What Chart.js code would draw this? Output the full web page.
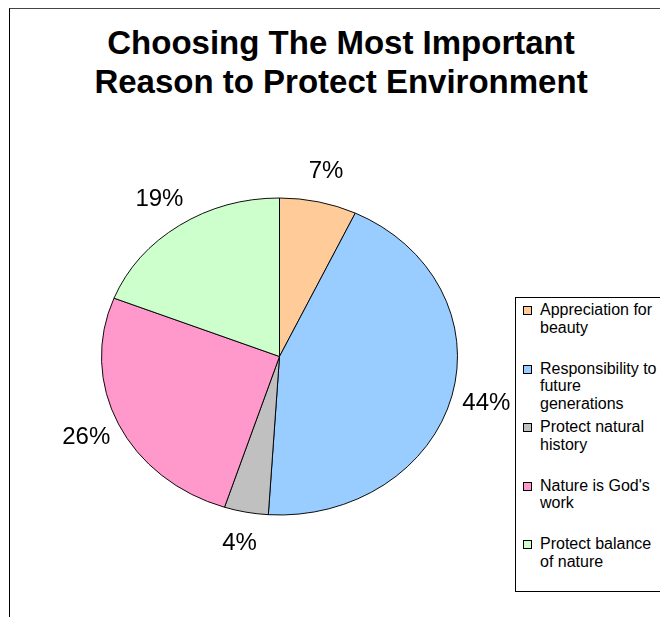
<!DOCTYPE html>
<html>
<head>
<meta charset="utf-8">
<script src="https://cdn.jsdelivr.net/npm/chart.js@4.4.0/dist/chart.umd.min.js"></script>
<style>
    html, body { margin: 0; padding: 0; background: #fff; }
    body { width: 660px; height: 617px; position: relative; overflow: hidden; font-family: "Liberation Sans", Arial, sans-serif; }
    #frame { position: absolute; left: 9px; top: 8px; width: 700px; height: 700px; border-top: 1px solid #444; border-left: 1px solid #000; }
    #title { position: absolute; left: 41px; width: 600px; top: 24px; text-align: center; font-weight: bold; font-size: 33px; line-height: 38.5px; color: #000; }
    #chart { position: absolute; left: 0; top: 0; }
    #legend { position: absolute; left: 515px; top: 297px; width: 200px; height: 293px; border: 1px solid #000; background: #fff; }
    .item { position: absolute; left: 0; width: 200px; }
    .box { position: absolute; left: 7px; top: 5px; width: 7px; height: 7px; border: 1px solid #000; }
    .txt { position: absolute; left: 24px; top: 0; width: 120px; font-size: 16px; line-height: 17.5px; color: #000; }
</style>
</head>
<body>
<div id="frame"></div>
<div id="title">Choosing The Most Important<br>Reason to Protect Environment</div>
<canvas id="chart" width="660" height="617"></canvas>
<div id="legend"></div>
<script>
document.addEventListener('DOMContentLoaded', () => {
    const labels = ['Appreciation for beauty', 'Responsibility to future generations', 'Protect natural history', "Nature is God's work", 'Protect balance of nature'];
    const values = [7, 44, 4, 26, 19];
    const colors = ['#FFCC99', '#99CCFF', '#C0C0C0', '#FF99CC', '#CCFFCC'];

    const squash = 158.5 / 178; // the original pie is a slightly flattened ellipse

    // flatten the pie vertically around its centre
    const ellipsePlugin = {
        id: 'ellipse',
        beforeDatasetsDraw(chart) {
            const ctx = chart.ctx;
            const cy = (chart.chartArea.top + chart.chartArea.bottom) / 2;
            ctx.save();
            ctx.translate(0, cy * (1 - squash));
            ctx.scale(1, squash);
        },
        afterDatasetsDraw(chart) {
            chart.ctx.restore();
        }
    };

    // percentage labels outside each slice
    const pctLabels = {
        id: 'pctLabels',
        afterDraw(chart) {
            const ctx = chart.ctx;
            const cy = (chart.chartArea.top + chart.chartArea.bottom) / 2;
            ctx.save();
            ctx.font = '24px "Liberation Sans", Arial, sans-serif';
            ctx.fillStyle = '#000';
            ctx.textAlign = 'center';
            ctx.textBaseline = 'middle';
            chart.getDatasetMeta(0).data.forEach((arc, i) => {
                const p = arc.getProps(['x', 'y', 'startAngle', 'endAngle', 'outerRadius'], true);
                const mid = (p.startAngle + p.endAngle) / 2;
                const r = p.outerRadius * 1.2;
                const x = p.x + Math.cos(mid) * r;
                const y = cy + Math.sin(mid) * r * squash;
                ctx.fillText(values[i] + '%', x, y);
            });
            ctx.restore();
        }
    };

    new Chart(document.getElementById('chart'), {
        type: 'pie',
        data: {
            labels: labels,
            datasets: [{
                data: values,
                backgroundColor: colors,
                borderColor: '#000',
                borderWidth: 1
            }]
        },
        options: {
            responsive: false,
            animation: false,
            layout: { padding: { left: 101, right: 202, top: 178, bottom: 82 } },
            plugins: {
                legend: { display: false },
                title: { display: false },
                tooltip: { enabled: false }
            }
        },
        plugins: [ellipsePlugin, pctLabels]
    });

    // legend entries, spread evenly down the box
    const legend = document.getElementById('legend');
    labels.forEach((name, i) => {
        const item = document.createElement('div');
        item.className = 'item';
        item.style.top = (3 + i * 58.5) + 'px';
        const box = document.createElement('div');
        box.className = 'box';
        box.style.background = colors[i];
        const txt = document.createElement('div');
        txt.className = 'txt';
        txt.textContent = name;
        item.appendChild(box);
        item.appendChild(txt);
        legend.appendChild(item);
    });
});
</script>
</body>
</html>
